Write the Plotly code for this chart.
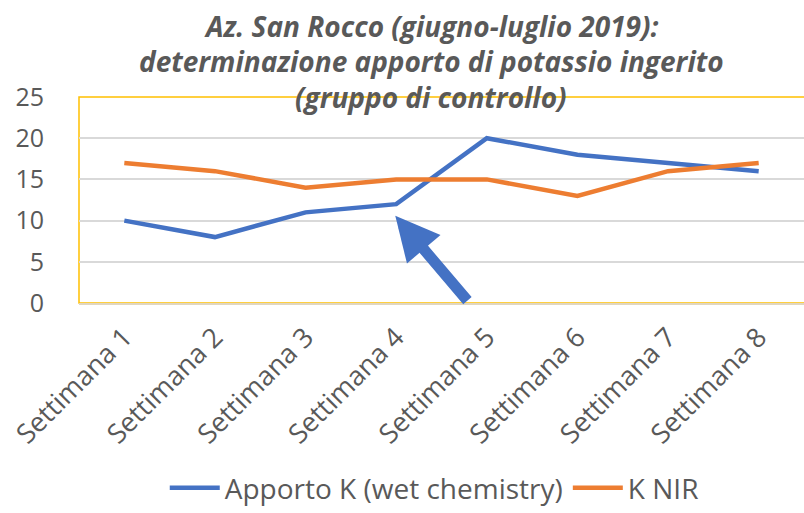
import plotly.graph_objects as go

categories = ["Settimana 1", "Settimana 2", "Settimana 3", "Settimana 4",
              "Settimana 5", "Settimana 6", "Settimana 7", "Settimana 8"]
apporto_k = [10, 8, 11, 12, 20, 18, 17, 16]
k_nir = [17, 16, 14, 15, 15, 13, 16, 17]
y_ticks = [0, 5, 10, 15, 20, 25]

title_lines = ["Az. San Rocco (giugno-luglio 2019):",
               "determinazione apporto di potassio ingerito",
               "(gruppo di controllo)"]

FONT = "Open Sans, sans-serif"
GREY = "#595959"

fig = go.Figure()
fig.add_trace(go.Scatter(x=categories, y=apporto_k, mode="lines",
                         name="Apporto K (wet chemistry)",
                         line=dict(color="#4472C4", width=4.5)))
fig.add_trace(go.Scatter(x=categories, y=k_nir, mode="lines",
                         name="K NIR",
                         line=dict(color="#ED7D31", width=4.5)))

# plot area border (gold)
fig.add_shape(type="rect", xref="paper", yref="paper", x0=0, x1=1.02, y0=0, y1=1,
              line=dict(color="#FFC000", width=1.5), layer="below")

# title lines
for line, yp in zip(title_lines, [1.345, 1.174, 1.0]):
    fig.add_annotation(text="<b><i>" + line + "</i></b>", xref="paper", yref="paper",
                       x=0.486, y=yp, xanchor="center", yanchor="middle",
                       showarrow=False, font=dict(size=28, color=GREY, family=FONT))

# arrow pointing at Settimana 4
fig.add_annotation(x=2.99, y=10.6, ax=3.8, ay=0.1, xref="x", yref="y",
                   axref="x", ayref="y", text="", showarrow=True,
                   arrowhead=2, arrowsize=0.8, arrowwidth=11,
                   arrowcolor="#4472C4")

fig.update_layout(
    width=804, height=513,
    margin=dict(l=79, r=0, t=97, b=203),
    paper_bgcolor="white", plot_bgcolor="white",
    font=dict(family=FONT, color=GREY),
    showlegend=True,
    legend=dict(orientation="h", x=0.49, xanchor="center", y=-0.9, yanchor="middle",
                font=dict(size=28, color=GREY), itemwidth=50,
                bgcolor="rgba(0,0,0,0)"),
    xaxis=dict(tickangle=-45, tickfont=dict(size=27, color=GREY),
               showgrid=False, showline=True, linecolor="#E0D6C0", linewidth=1.5,
               ticks="", range=[-0.5, 7.5], automargin=False, ticklabelstandoff=6),
    yaxis=dict(range=[0, 25], tickvals=y_ticks, tickfont=dict(size=25, color=GREY),
               showgrid=True, gridcolor="#D9D9D9", gridwidth=1.5,
               zeroline=False, ticks="", ticklabelstandoff=34, automargin=False),
)

fig.write_html("out.html", config={"displayModeBar": False},
               post_script="document.body.style.margin='0';")
